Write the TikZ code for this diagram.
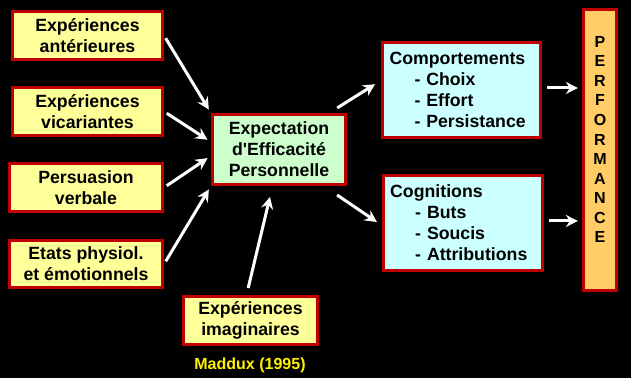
\documentclass[tikz,border=0pt]{standalone}
\usepackage{fontspec}
\setmainfont{Liberation Sans}
\usetikzlibrary{arrows.meta}
\usetikzlibrary{calc}
\tikzset{>={Stealth[length=3mm,width=3mm,inset=1mm]}}
\definecolor{boxred}{RGB}{192,0,0}
\definecolor{boxyellow}{RGB}{255,255,153}
\definecolor{boxgreen}{RGB}{204,255,204}
\definecolor{boxcyan}{RGB}{204,255,255}
\definecolor{boxorange}{RGB}{255,204,102}
\tikzstyle{redbox}=[draw=boxred,line width=0.075cm,inner sep=0pt,align=center,font=\bfseries\fontsize{12.6}{15}\selectfont]
\tikzstyle{listbox}=[redbox,fill=boxcyan,align=left,inner xsep=0.17cm,minimum height=2.38cm]
\tikzstyle{whitearrow}=[->,draw=white,line width=0.075cm]

\begin{document}
\begin{tikzpicture}
    \fill[black] (0,0) rectangle (15.775,9.45);

    \node[redbox,fill=boxyellow,minimum width=3.75cm,minimum height=1.2cm] (ant) at (2.1875,8.5625) {Expériences\\antérieures};
    \node[redbox,fill=boxyellow,minimum width=3.75cm,minimum height=1.2cm] (vic) at (2.1875,6.6625) {Expériences\\vicariantes};
    \node[redbox,fill=boxyellow,minimum width=3.83cm,minimum height=1.2cm] (pers) at (2.15,4.7625) {Persuasion\\verbale};
    \node[redbox,fill=boxyellow,minimum width=3.83cm,minimum height=1.18cm] (etats) at (2.15,2.85) {Etats physiol.\\et émotionnels};
    \node[redbox,fill=boxyellow,minimum width=3.35cm,minimum height=1.2cm] (imag) at (6.2625,1.4375) {Expériences\\imaginaires};
    \node[text=yellow,font=\bfseries\fontsize{11.4}{13}\selectfont] (src) at (6.25,0.325) {Maddux (1995)};

    \node[redbox,fill=boxgreen,minimum width=3.33cm,minimum height=1.75cm] (eff) at (6.975,5.7125) {Expectation\\d\textquotesingle Efficacité\\Personnelle};

    \node[listbox,text width=3.6cm] (comp) at (11.5375,7.2) {Comportements\\\hspace*{0.625cm}- Choix\\\hspace*{0.625cm}- Effort\\\hspace*{0.625cm}- Persistance};
    \node[listbox,text width=3.64cm] (cog) at (11.575,3.875) {Cognitions\\\hspace*{0.625cm}- Buts\\\hspace*{0.625cm}- Soucis\\\hspace*{0.625cm}- Attributions};

    \node[redbox,fill=boxorange,minimum width=0.83cm,minimum height=7.03cm] (perf) at (15.0,5.7) {};
    \node[font=\bfseries\fontsize{11.4}{13.9}\selectfont,align=center] (perftxt) at (15.0,5.9625) {P\\E\\R\\F\\O\\R\\M\\A\\N\\C\\E};

    % sources -> expectation
    \draw[whitearrow,shorten <=0.08cm,shorten >=0.1cm] (ant.east) -- (eff.north west);
    \draw[whitearrow,shorten <=0.08cm,shorten >=0.1cm] (vic.east) -- ($(eff.west)+(0,0.19)$);
    \draw[whitearrow,shorten <=0.08cm,shorten >=0.1cm] (pers.east) -- ($(eff.west)+(0,-0.16)$);
    \draw[whitearrow,shorten <=0.08cm,shorten >=0.1cm] (etats.east) -- (eff.south west);
    \draw[whitearrow,shorten <=0.18cm,shorten >=0.28cm] ($(imag.north)+(-0.1,0)$) -- ($(eff.south)+(-0.16,0)$);

    % expectation -> effects -> performance
    \draw[whitearrow,shorten <=0.24cm,shorten >=0.18cm] ($(eff.north east)+(-0.45,0)$) -- ($(comp.west)+(0,0.24)$);
    \draw[whitearrow,shorten <=0.4cm,shorten >=0.15cm] ($(eff.south east)+(-0.58,0)$) -- ($(cog.west)+(0,-0.06)$);
    \draw[whitearrow,shorten <=0.12cm,shorten >=0.1cm] ($(comp.east)+(0,0.05)$) -- ($(comp.east -| perf.west)+(0,0.05)$);
    \draw[whitearrow,shorten <=0.12cm,shorten >=0.1cm] ($(cog.east)+(0,0.05)$) -- ($(cog.east -| perf.west)+(0,0.05)$);
\end{tikzpicture}
\end{document}
